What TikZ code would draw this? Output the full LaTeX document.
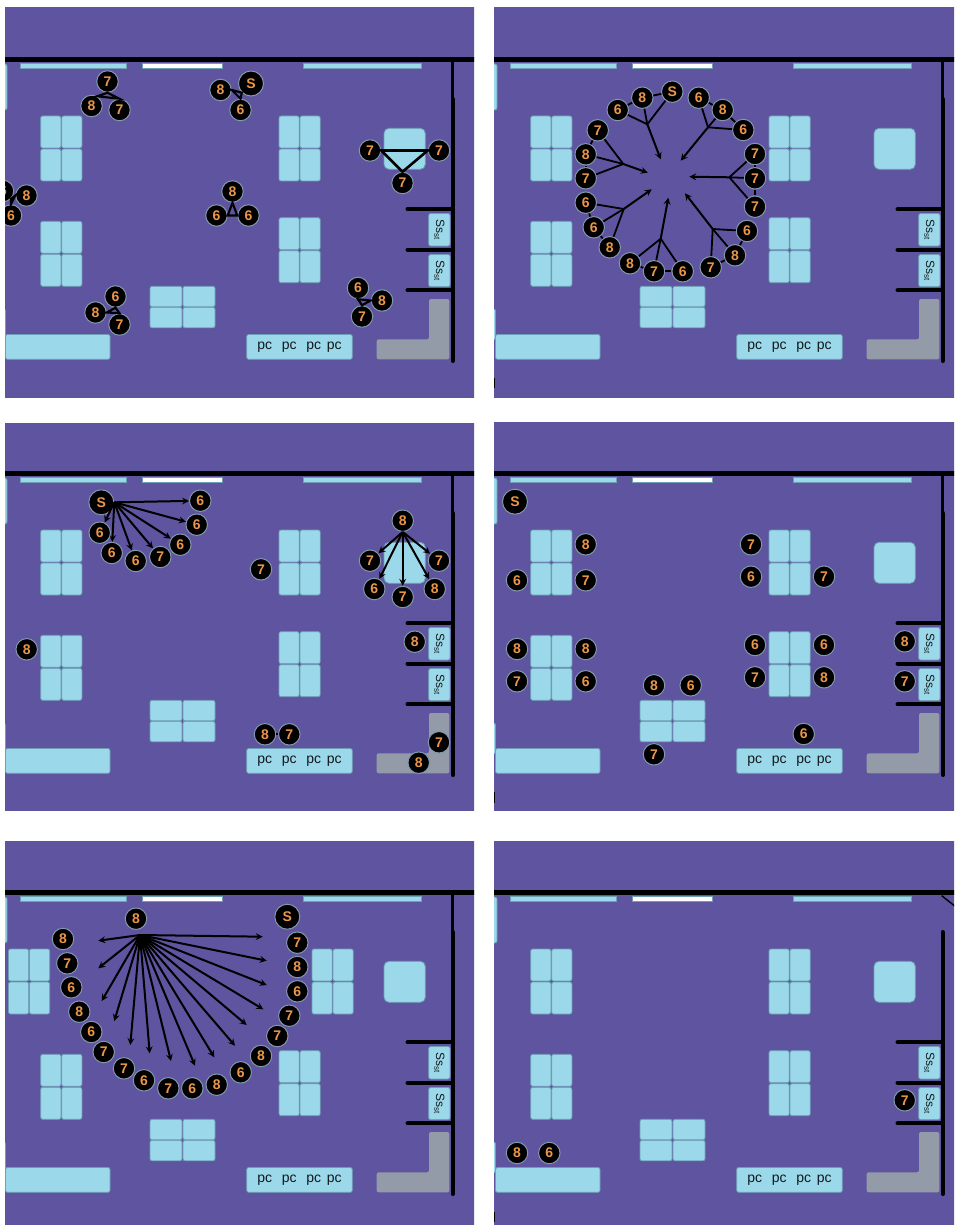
\documentclass[tikz,border=0pt]{standalone}
\usepackage{fontspec}
\setmainfont{Liberation Sans}
\definecolor{roomblue}{HTML}{5F54A0}
\definecolor{deskfill}{HTML}{9BD9EA}
\definecolor{deskline}{HTML}{6E9FB5}
\definecolor{cabinet}{HTML}{939BA8}
\definecolor{digitorange}{HTML}{EB9648}
\definecolor{ringgrey}{HTML}{8498AC}

% four desks standing or lying side by side
\newcommand{\tallblock}[2]{%
    \foreach \i in {0,1} \foreach \j in {0,1}
        \draw[desk] (#1+\i*21,#2+\j*33) rectangle +(20.2,32);
}
\newcommand{\wideblock}[2]{%
    \foreach \i in {0,1} \foreach \j in {0,1}
        \draw[desk] (#1+\i*33,#2+\j*21) rectangle +(32,20.5);
}
% room: shift x, shift y, x of upper left block, x of upper right block, style of upper wall
\newcommand{\floorplan}[5]{%
    \begin{scope}[shift={(#1,#2)}]
        \fill[roomblue] (-10,-10) rectangle (500,420);
        \draw[wall,line width=4.5] (-10,59.3) -- (500,59.3);
        \draw[#5] (452.7,60) -- (452.7,100);
        \draw[wall,line cap=round] (452.7,99) -- (452.7,361);
        \foreach \y in {209.3,249.7,290.3}
            \draw[wall,line cap=round] (407.5,\y) -- (452.7,\y);
        \fill[deskfill,draw=deskline,line width=.7] (20.7,63.7) rectangle (126.3,68);
        \fill[white,draw=deskline,line width=.7] (142.3,63.7) rectangle (222.7,68);
        \fill[deskfill,draw=deskline,line width=.7] (303.3,63.7) rectangle (421,68);
        \draw[desk] (-5,64) rectangle (7,110);
        \draw[desk] (-5,309) rectangle (5.5,340);
        \draw[desk] (5.5,334.5) rectangle (110,359.3);
        \tallblock{#3}{116}
        \tallblock{40.7}{221.3}
        \tallblock{#4}{116}
        \tallblock{279}{217.7}
        \wideblock{150}{286.3}
        \draw[desk,rounded corners=5] (384,128.3) rectangle (425.3,169.3);
        \draw[desk] (246.7,334.5) rectangle (352.3,359.3);
        \foreach \x in {264.7,289.3,313.7,334.3}
            \node[pclabel] at (\x,347.3) {pc};
        \draw[desk] (428.7,213.5) rectangle (450,246);
        \draw[desk] (428.7,254.5) rectangle (450,286.7);
        \node[sslabel] at (439.3,229.7) {Ss\textsubscript{st}};
        \node[sslabel] at (439.3,270.5) {Ss\textsubscript{st}};
        \fill[cabinet,rounded corners=2] (429,299) -- (449.3,299) -- (449.3,359.3)
            -- (376.7,359.3) -- (376.7,339.3) -- (429,339.3) -- cycle;
    \end{scope}
}

\begin{document}
\begin{tikzpicture}[x=1pt,y=-1pt,>=stealth,
    wall/.style={black,line width=4},
    thinwall/.style={black,line width=2.6},
    nowall/.style={draw=none},
    desk/.style={fill=deskfill,draw=deskline,line width=.8,rounded corners=2},
    pclabel/.style={text=black!85!deskline,font=\fontsize{14}{14}\selectfont,inner sep=0},
    sslabel/.style={text=black!85!deskline,font=\fontsize{12}{12}\selectfont,inner sep=0,rotate=-90},
    pers/.style={circle,fill=black,draw=ringgrey,line width=1,inner sep=0,minimum size=21.5,
        text=digitorange,font=\bfseries\fontsize{14}{14}\selectfont},
    lead/.style={pers,minimum size=25},
    link/.style={black,line width=2.1},
    spoke/.style={->,black,line width=2}]
    \useasboundingbox (0,0) rectangle (954,1225);
    \fill[white] (0,0) rectangle (954,1225);

    % groups of three
    \begin{scope}
        \clip (5,8) rectangle (474,397);
        \floorplan{0}{0}{40.7}{279}{thinwall}
        \node[pers] (a1) at (107.5,81.5) {7};
        \node[pers] (a2) at (91.5,106) {8};
        \node[pers] (a3) at (119.5,110) {7};
        \draw[link] (a1.south) -- (a2.60) -- (a3.north) -- cycle;
        \node[lead] (b1) at (251,83.5) {S};
        \node[pers] (b2) at (220.5,90) {8};
        \node[pers] (b3) at (240.5,110) {6};
        \draw[link] (b1.225) -- (b2.east) -- (b3.north) -- cycle;
        \node[pers] (c1) at (370,150.5) {7};
        \node[pers] (c2) at (439,150.5) {7};
        \node[pers] (c3) at (402.5,183) {7};
        \draw[link,line width=2.6] (c1.east) -- (c2.west) -- (c3.north) -- cycle;
        \node[pers] (d1) at (3,191) {6};
        \node[pers] (d2) at (26.5,195.5) {8};
        \node[pers] (d3) at (11,215.5) {6};
        \draw[link] (d1.south east) -- (d2.west) -- (d3.north) -- cycle;
        \node[pers] (e1) at (232.5,191.5) {8};
        \node[pers] (e2) at (216.5,215.5) {6};
        \node[pers] (e3) at (248.5,215.5) {6};
        \draw[link] (e1.south) -- (e2.east) -- (e3.west) -- cycle;
        \node[pers] (f1) at (115.5,296.5) {6};
        \node[pers] (f2) at (95.5,312.5) {8};
        \node[pers] (f3) at (119.5,324.5) {7};
        \draw[link] (f1.south) -- (f2.east) -- (f3.north) -- cycle;
        \node[pers] (g1) at (358,288) {6};
        \node[pers] (g2) at (382,300.5) {8};
        \node[pers] (g3) at (362,316.5) {7};
        \draw[link] (g1.south) -- (g2.west) -- (g3.north) -- cycle;
    \end{scope}

    % ring of groups
    \begin{scope}
        \clip (494,8) rectangle (954,397);
        \floorplan{490}{0}{40.7}{279}{thinwall}
        \draw[black,line width=1.2] (494.5,378) -- (494.5,388);
        \foreach \gr/\ax/\ay/\bx/\by/\cx/\cy/\jx/\jy/\ex/\ey/\la/\lb/\lc in {%
            h/672.3/91.7/642.3/97.7/617.7/110/647.3/124.3/660.7/159.3/S/8/6,
            i/698.7/97.7/722.7/110/743.3/130/708/127.3/680.7/160.7/6/8/6,
            j/755/154/755/178.3/755/206.7/729.3/177.3/689.3/176.7/7/7/7,
            k/747/231/735/255.3/710.7/267.3/712.7/229/685/193.3/6/8/7,
            l/682.7/271.3/654/271.3/630/263.3/660.7/238.7/668.3/197.7/6/7/8,
            m/609.7/247.3/593.7/227.3/585.7/202.7/623.7/209/651.7/189.3/8/6/6,
            n/585.7/178.3/585.7/154.3/597.7/130.3/623.3/164/647.7/172.7/7/8/7}{
            \node[\ifx\la S lead\else pers\fi] (\gr1) at (\ax,\ay) {\la};
            \node[pers] (\gr2) at (\bx,\by) {\lb};
            \node[pers] (\gr3) at (\cx,\cy) {\lc};
            \coordinate (\gr j) at (\jx,\jy);
            \coordinate (\gr e) at (\ex,\ey);
            \draw[link,line width=1.8] (\gr1) -- (\gr2);
            \draw[link,line width=1.8] (\gr2) -- (\gr3);
            \draw[link,line width=1.8] (\gr1) -- (\gr j);
            \draw[link,line width=1.8] (\gr2) -- (\gr j);
            \draw[link,line width=1.8] (\gr3) -- (\gr j);
            \draw[spoke] (\gr j) -- (\gr e);
        }
    \end{scope}

    % leader with half circle, other leader at the right
    \begin{scope}
        \clip (5,423) rectangle (474,810);
        \floorplan{0}{414}{40.7}{279}{thinwall}
        \node[lead] (p0) at (101.3,502.3) {S};
        \foreach \n/\x/\y/\lab in {1/200.3/500.7/6,2/196.7/524.7/6,3/180.3/544.7/6,4/160.3/557/7,
            5/135.7/561/6,6/111.7/553/6,7/99.7/532.7/6}{
            \node[pers] (p\n) at (\x,\y) {\lab};
            \draw[spoke] (p0.east) -- (p\n);
        }
        \node[pers] (q0) at (402.7,520.7) {8};
        \foreach \n/\x/\y/\lab in {1/370/560.7/7,2/374.3/589/6,3/402.7/597/7,4/434.7/589/8,5/439/560.7/7}{
            \node[pers] (q\n) at (\x,\y) {\lab};
            \draw[spoke] (q0.south) -- (q\n);
        }
        \node[pers] (r1) at (261,569.3) {7};
        \node[pers] (r2) at (26.7,649.3) {8};
        \node[pers] (r3) at (414.7,641.7) {8};
        \node[pers] (r4) at (265,734.3) {8};
        \node[pers] (r5) at (289.3,734.3) {7};
        \node[pers] (r6) at (439,742.3) {7};
        \node[pers] (r7) at (418.7,762.7) {8};
        \draw[link] (r4) -- (r5);
    \end{scope}

    % everybody at a desk
    \begin{scope}
        \clip (494,422) rectangle (954,810);
        \floorplan{490}{414}{40.7}{279}{thinwall}
        \draw[black,line width=1.2] (494.5,792) -- (494.5,803);
        \node[lead] (s0) at (515,501.7) {S};
        \foreach \n/\x/\y/\lab in {1/585.7/544.3/8,2/517/580.3/6,3/585.7/580.3/7,4/517/649/8,5/585.7/649/8,
            6/517/681.3/7,7/585.7/681.3/6,8/751/544.3/7,9/751/576.7/6,10/824/576.7/7,11/755/645/6,
            12/824/645/6,13/755/677.3/7,14/824/677.3/8,15/654/685.3/8,16/690.7/685.3/6,17/654/754.3/7,
            18/803.7/734/6,19/904.7/641.3/8,20/904.7/681.3/7}
            \node[pers] (s\n) at (\x,\y) {\lab};
    \end{scope}

    % fan of arrows, desks moved aside
    \begin{scope}
        \clip (5,841) rectangle (474,1225);
        \floorplan{0}{833}{8.5}{312}{thinwall}
        \node[lead] (u0) at (287.3,916.7) {S};
        \node[pers] (t0) at (136,918.7) {8};
        \foreach \n/\x/\y/\lab in {1/63/939/8,2/67.3/963.3/7,3/71.3/987.3/6,4/79.3/1011.7/8,5/91.3/1032/6,
            6/103.7/1052/7,7/124/1068.3/7,8/144/1080.3/6,9/168.3/1088.3/7,10/192.3/1088.3/6,
            11/216.7/1084.7/8,12/240.7/1072.3/6,13/261/1056/8,14/277.3/1036/7,15/289.3/1015.7/7,
            16/297.3/991.3/6,17/297.3/967/8,18/297.3/942.7/7}
            \node[pers] (t\n) at (\x,\y) {\lab};
        \coordinate (hub) at (140,935);
        \foreach \n/\x/\y in {1/98.3/940.7,2/98.3/968.3,3/101.7/1001,4/114.3/1021,5/130.3/1045,
            6/149.7/1053.3,7/171/1061,8/195/1065.7,9/214.3/1057.3,10/235/1045.7,11/246.7/1025,
            12/263.3/1009.3,13/266.7/985,14/266.7/960.7,15/262.7/936.7}{
            \coordinate (v\n) at (\x,\y);
            \draw[spoke] (hub) -- (v\n);
        }
    \end{scope}

    % almost empty room, door open
    \begin{scope}
        \clip (494,841) rectangle (954,1225);
        \floorplan{490}{833}{40.7}{279}{nowall}
        \draw[black,line width=1.2] (494.5,1212) -- (494.5,1222);
        \coordinate (door1) at (941.7,895.7);
        \coordinate (door2) at (956,907);
        \draw[black,line width=1.4] (door1) -- (door2);
        \node[pers] (w1) at (517,1153) {8};
        \node[pers] (w2) at (549.3,1153) {6};
        \node[pers] (w3) at (904.7,1100.3) {7};
    \end{scope}
\end{tikzpicture}
\end{document}
